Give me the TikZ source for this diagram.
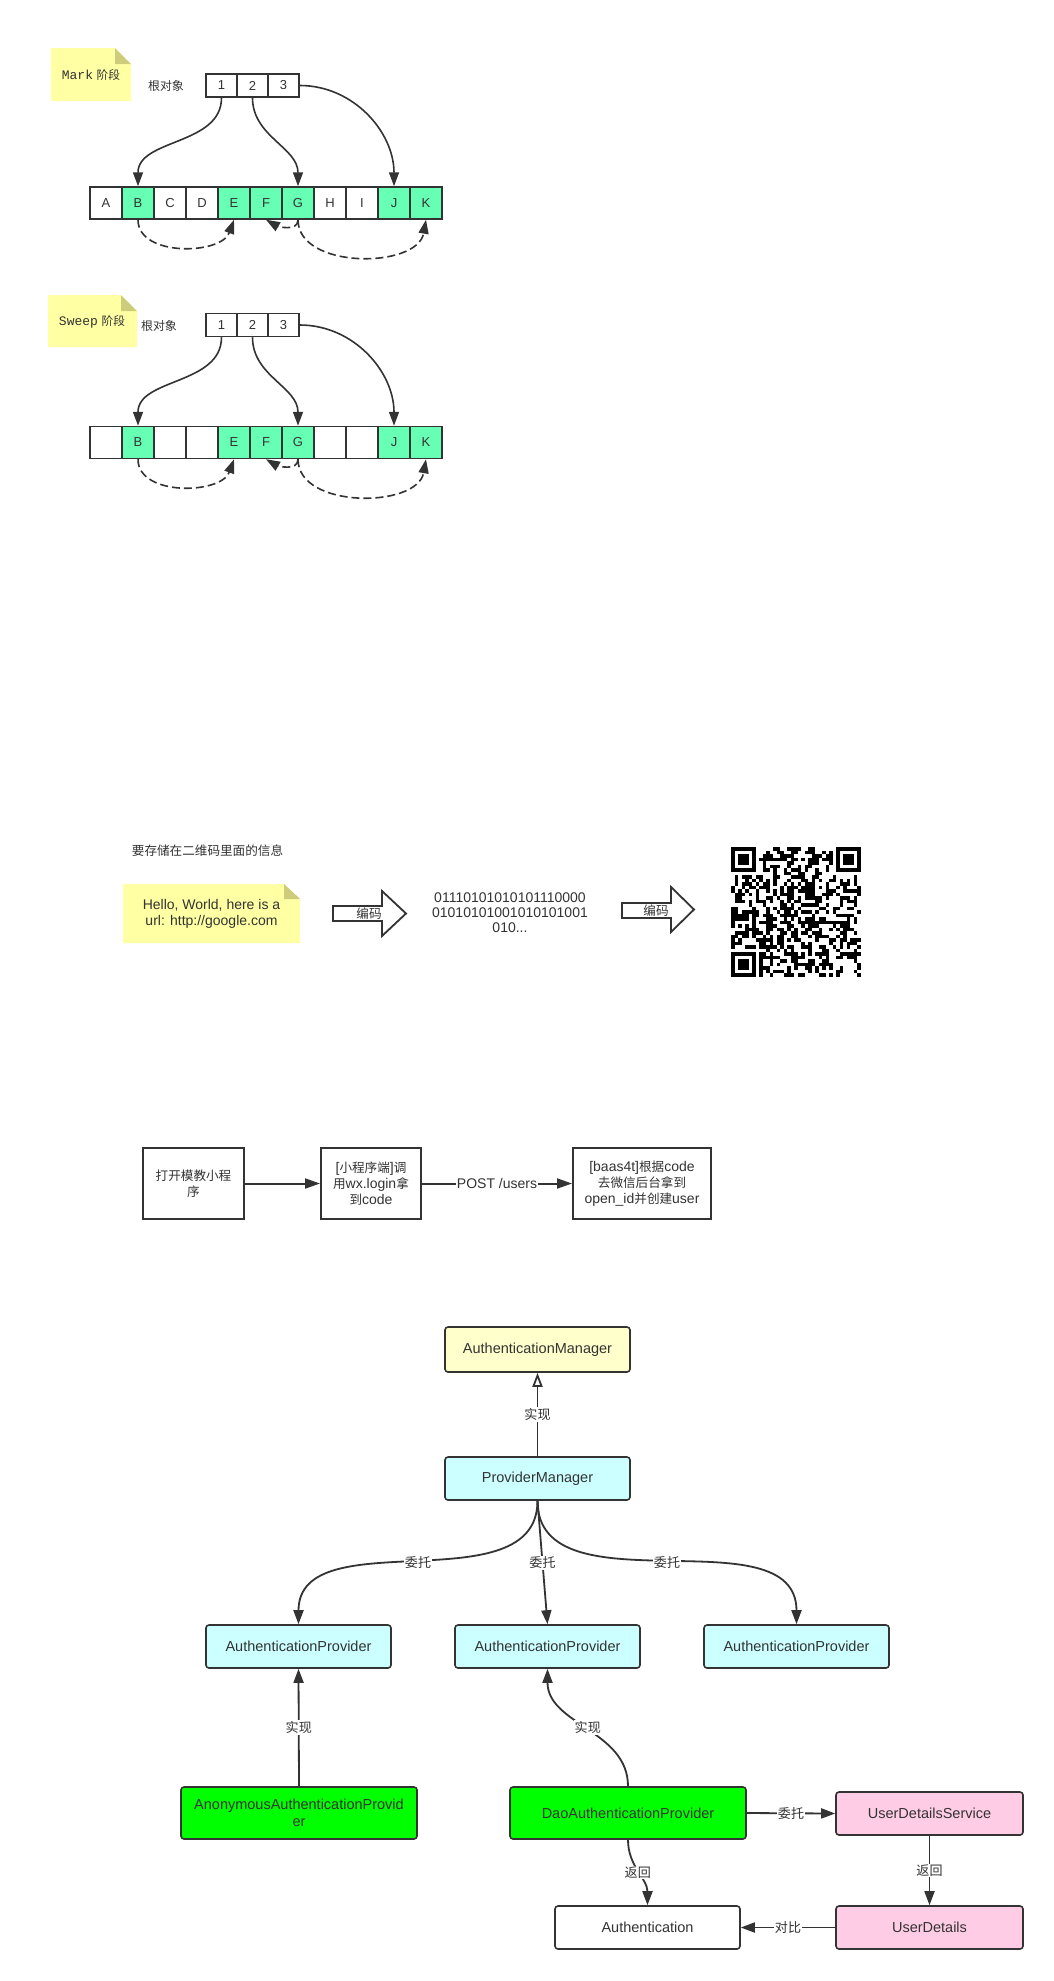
\documentclass[tikz,border=0pt]{standalone}
\usepackage{fontspec}
\setmainfont{Liberation Sans}
\newfontfamily\cjk{Noto Sans CJK SC}[Scale=0.9]
\newfontfamily\notemono{Liberation Mono}
\usetikzlibrary{arrows.meta}
\newcommand{\zh}[1]{{\cjk #1}}

\definecolor{ink}{HTML}{333333}
\definecolor{noteyellow}{HTML}{FFFFA3}
\definecolor{notefold}{HTML}{CCCC7A}
\definecolor{livegreen}{HTML}{66FFB3}
\definecolor{mgryellow}{HTML}{FFFFCC}
\definecolor{provcyan}{HTML}{CCFFFF}
\definecolor{implgreen}{HTML}{00FF00}
\definecolor{userpink}{HTML}{FFCCE6}

\tikzset{
  heapcell/.style={draw=ink, line width=1.5pt, minimum width=32pt, minimum height=32pt,
    inner sep=0pt, text=ink, font=\fontsize{13}{15}\selectfont},
  rootcell/.style={heapcell, minimum width=31pt, minimum height=23pt, fill=white},
  markptr/.style={draw=ink, line width=1.6pt, -{Triangle[length=14pt,width=10pt]}},
  dashback/.style={markptr, dash pattern=on 8pt off 4pt},
  notetext/.style={text=ink, font=\fontsize{13}{15}\selectfont},
  roottag/.style={text=ink, font=\fontsize{13.3}{16}\selectfont},
  infotext/.style={text=ink, align=center, font=\fontsize{14}{16}\selectfont},
  blockarrow/.style={draw=ink, line width=1.8pt, fill=white},
  flowbox/.style={draw=ink, line width=2pt, fill=white, align=center, text=ink,
    minimum height=71pt, inner sep=0pt, font=\fontsize{14}{16}\selectfont},
  flowline/.style={draw=ink, line width=2pt, -{Triangle[length=15pt,width=10pt]}},
  clsbox/.style={draw=ink, line width=1.6pt, rounded corners=3pt, minimum width=185pt,
    minimum height=43pt, inner sep=0pt, align=center, text=ink,
    font=\fontsize{14.5}{17}\selectfont},
  relline/.style={draw=ink, line width=1.8pt, -{Triangle[length=14pt,width=10pt]}},
  implline/.style={draw=ink, line width=1.8pt, -{Triangle[open,length=14pt,width=10pt]}},
  edgetag/.style={fill=white, inner sep=1pt, text=ink, font=\fontsize{14.5}{17}\selectfont},
}

\begin{document}
\begin{tikzpicture}[x=1pt, y=-1pt]
\fill[white] (0,0) rectangle (1053,1981);
\useasboundingbox (0,0) rectangle (1053,1981);

% Mark
\fill[noteyellow] (51,48) -- (115,48) -- (131,64) -- (131,101) -- (51,101) -- cycle;
\fill[notefold] (115,48) -- (131,64) -- (115,64) -- cycle;
\node[notetext] (marknote) at (91,75) {{\notemono Mark} \zh{阶段}};
\node[roottag] (markroot) at (166,86) {\zh{根对象}};
\foreach \k [count=\i from 0] in {1,2,3}
  \node[rootcell] (mr\k) at (221.5+31*\i,85.5) {\k};
\foreach \n/\c [count=\i from 0] in {A/white,B/livegreen,C/white,D/white,E/livegreen,F/livegreen,G/livegreen,H/white,I/white,J/livegreen,K/livegreen}
  \node[heapcell, fill=\c] (m\n) at (106+32*\i,203) {\n};
\draw[markptr] (mr1.south) to[out=-90,in=90] (mB.north);
\draw[markptr] (mr2.south) to[out=-90,in=90] (mG.north);
\draw[markptr] (mr3.east) to[out=0,in=90] (mJ.north);
\draw[dashback] (mB.south) to[out=-90,in=-110] (mE.south);
\draw[dashback] (mG.south) to[out=-90,in=-30] (mF.south);
\draw[dashback] (mG.south) to[out=-90,in=-100] (mK.south);

% Sweep
\fill[noteyellow] (48,295) -- (121,295) -- (137,311) -- (137,347) -- (48,347) -- cycle;
\fill[notefold] (121,295) -- (137,311) -- (121,311) -- cycle;
\node[notetext] (sweepnote) at (92,322) {{\notemono Sweep} \zh{阶段}};
\node[roottag] (sweeproot) at (159,326) {\zh{根对象}};
\foreach \k [count=\i from 0] in {1,2,3}
  \node[rootcell] (sr\k) at (221.5+31*\i,325) {\k};
\foreach \n/\l/\c [count=\i from 0] in {A/{}/white,B/B/livegreen,C/{}/white,D/{}/white,E/E/livegreen,F/F/livegreen,G/G/livegreen,H/{}/white,I/{}/white,J/J/livegreen,K/K/livegreen}
  \node[heapcell, fill=\c] (s\n) at (106+32*\i,442.5) {\l};
\draw[markptr] (sr1.south) to[out=-90,in=90] (sB.north);
\draw[markptr] (sr2.south) to[out=-90,in=90] (sG.north);
\draw[markptr] (sr3.east) to[out=0,in=90] (sJ.north);
\draw[dashback] (sB.south) to[out=-90,in=-110] (sE.south);
\draw[dashback] (sG.south) to[out=-90,in=-30] (sF.south);
\draw[dashback] (sG.south) to[out=-90,in=-100] (sK.south);

% QR encoding
\node[infotext] (qrinfo) at (207.5,851) {\zh{要存储在二维码里面的信息}};
\fill[noteyellow] (123,884) -- (284,884) -- (300,899) -- (300,943) -- (123,943) -- cycle;
\fill[notefold] (284,884) -- (300,899) -- (284,899) -- cycle;
\node[infotext] (hello) at (211.5,913.5) {Hello, World, here is a\\url: http://google.com};
\draw[blockarrow] (333,906) -- (382,906) -- (382,891) -- (406,913.5) -- (382,936) -- (382,921) -- (333,921) -- cycle;
\node[infotext] (enc1) at (369,914) {\zh{编码}};
\node[infotext, font=\fontsize{14}{15}\selectfont] (bits) at (510,913) {01110101010101110000\\01010101001010101001\\010...};
\draw[blockarrow] (622,903) -- (671,903) -- (671,887) -- (694,909.5) -- (671,932) -- (671,918) -- (622,918) -- cycle;
\node[infotext] (enc2) at (656,911) {\zh{编码}};
\pgfmathsetseed{42}
\foreach \i in {0,...,36}
  \foreach \j in {0,...,36}{
    \pgfmathtruncatemacro\qrfinder{or(or(and(\i<8,\j<8),and(\i>28,\j<8)),and(\i<8,\j>28))}
    \pgfmathtruncatemacro\qrbit{rnd<0.5}
    \ifnum\qrfinder=0 \ifnum\qrbit=1 \fill (731+3.5*\i,847+3.5*\j) rectangle ++(3.5,3.5);\fi\fi
  }
\foreach \qx/\qy in {731/847, 836/847, 731/952}{
  \fill (\qx,\qy) rectangle ++(24.5,24.5);
  \fill[white] (\qx+3.5,\qy+3.5) rectangle ++(17.5,17.5);
  \fill (\qx+7,\qy+7) rectangle ++(10.5,10.5);
}

% mini program login
\node[flowbox, minimum width=101pt] (openapp) at (193.5,1183.5) {\zh{打开模教小程}\\\zh{序}};
\node[flowbox, minimum width=100pt] (wxlogin) at (371,1183.5) {[\zh{小程序端}]\zh{调}\\\zh{用}wx.login\zh{拿}\\\zh{到}code};
\node[flowbox, minimum width=138pt] (mkuser) at (642,1183.5) {[baas4t]\zh{根据}code\\\zh{去微信后台拿到}\\open\_id\zh{并创建}user};
\draw[flowline] (openapp) -- (wxlogin);
\draw[flowline] (wxlogin) -- node[edgetag, font=\fontsize{14}{16}\selectfont] {POST /users} (mkuser);

% spring security
\node[clsbox, fill=mgryellow, minimum height=45pt] (authmgr) at (537.5,1349.5) {AuthenticationManager};
\node[clsbox, fill=provcyan] (provmgr) at (537.5,1478.5) {ProviderManager};
\node[clsbox, fill=provcyan] (prov1) at (298.5,1646.5) {AuthenticationProvider};
\node[clsbox, fill=provcyan] (prov2) at (547.5,1646.5) {AuthenticationProvider};
\node[clsbox, fill=provcyan] (prov3) at (796.5,1646.5) {AuthenticationProvider};
\node[clsbox, fill=implgreen, minimum width=236pt, minimum height=52pt] (anonprov) at (299,1813) {AnonymousAuthenticationProvid\\er};
\node[clsbox, fill=implgreen, minimum width=236pt, minimum height=52pt] (daoprov) at (628,1813) {DaoAuthenticationProvider};
\node[clsbox, fill=userpink, minimum width=187pt] (udsvc) at (929.5,1813.5) {UserDetailsService};
\node[clsbox, fill=white] (authobj) at (647.5,1927.5) {Authentication};
\node[clsbox, fill=userpink, minimum width=187pt] (udetails) at (929.5,1927.5) {UserDetails};
\draw[implline] (provmgr) -- node[edgetag] {\zh{实现}} (authmgr);
\draw[relline] (provmgr.south) to[out=-90,in=90] node[edgetag] {\zh{委托}} (prov1.north);
\draw[relline] (provmgr.south) -- node[edgetag] {\zh{委托}} (prov2.north);
\draw[relline] (provmgr.south) to[out=-90,in=90] node[edgetag] {\zh{委托}} (prov3.north);
\draw[relline] (anonprov.north) -- node[edgetag] {\zh{实现}} (prov1.south);
\draw[relline] (daoprov.north) to[out=90,in=-90] node[edgetag] {\zh{实现}} (prov2.south);
\draw[relline] (daoprov.east) -- node[edgetag] {\zh{委托}} (udsvc.west);
\draw[relline] (daoprov.south) to[out=-90,in=90] node[edgetag] {\zh{返回}} (authobj.north);
\draw[relline] (udsvc) -- node[edgetag] {\zh{返回}} (udetails);
\draw[relline] (udetails) -- node[edgetag] {\zh{对比}} (authobj);
\end{tikzpicture}
\end{document}
